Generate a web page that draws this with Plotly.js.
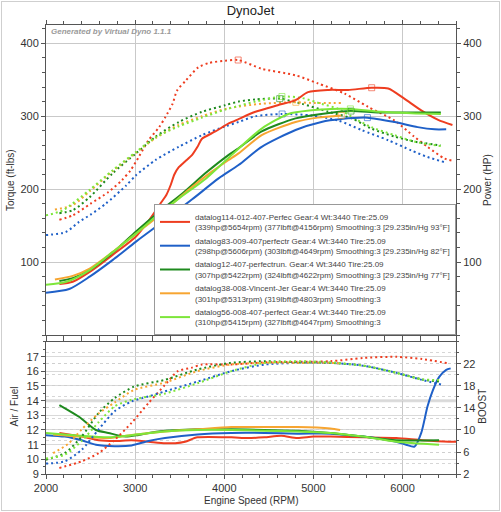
<!DOCTYPE html>
<html><head><meta charset="utf-8">
<script src="https://cdn.plot.ly/plotly-3.0.1.min.js"></script>
<style>
html,body{margin:0;padding:0;background:#fff;}
#chart{width:497px;height:508px;margin:1px;border:1px solid #cfcfcf;}
</style></head>
<body><div id="chart"></div>
<script>
// ---- run names / colours ----
const runNames = [
 "datalog114-012-407-Perfec Gear:4 Wt:3440 Tire:25.09<br>(339hp@5654rpm) (377lbft@4156rpm) Smoothing:3 [29.235in/Hg 93°F]",
 "datalog83-009-407perfectr Gear:4 Wt:3440 Tire:25.09<br>(298hp@5606rpm) (303lbft@4649rpm) Smoothing:3 [29.235in/Hg 82°F]",
 "datalog12-407-perfectrun. Gear:4 Wt:3440 Tire:25.09<br>(307hp@5422rpm) (324lbft@4622rpm) Smoothing:3 [29.235in/Hg 77°F]",
 "datalog38-008-Vincent-Jer Gear:4 Wt:3440 Tire:25.09<br>(301hp@5313rpm) (319lbft@4803rpm) Smoothing:3",
 "datalog56-008-407-perfect Gear:4 Wt:3440 Tire:25.09<br>(310hp@5415rpm) (327lbft@4647rpm) Smoothing:3"
];
const runColors = ["#ee3d20", "#1f60c8", "#1e8a1e", "#f7a531", "#7de63a"];

// ---- peaks (from legend) ----
const peakHpRpm = [5654, 5606, 5422, 5313, 5415];
const peakHp    = [339, 298, 307, 301, 310];
const peakTqRpm = [4156, 4649, 4622, 4803, 4647];
const peakTq    = [377, 303, 324, 319, 327];

// ---- Power (HP) ----
const redHpRpm = [2150,2300,2520,2750,3010,3160,3300,3350,3400,3440,3490,3560,3640,3700,3750,3900,4050,4160,4350,4600,4800,4940,5170,5390,5654,5840,6020,6210,6400,6560];
const redHp    = [70,73,89,110,135,158,183,192,206,220,230,238,247,258,269,279,290,296,306,315,322,333,336,336,339,338,324,308,295,288];
const blueHpRpm = [2000,2260,2490,2750,3010,3340,3640,3940,4160,4420,4800,5090,5310,5606,5910,6170,6360,6490];
const blueHp    = [58,63,80,103,128,158,186,215,233,258,281,292,296,298,292,285,282,282];
const dgHpRpm = [2150,2300,2490,2750,3010,3270,3530,3800,4050,4160,4420,4800,5090,5422,5720,6100,6430];
const dgHp    = [74,78,89,113,142,169,194,223,247,256,279,297,303,307,305,305,305];
const orHpRpm = [2100,2300,2490,2750,3010,3270,3530,3860,4050,4160,4420,4800,5050,5313];
const orHp    = [76,81,91,114,139,164,192,224,240,249,274,292,298,301];
const lgHpRpm = [2000,2230,2490,2750,3010,3230,3500,3800,4050,4420,4720,4980,5200,5415,5760,6100,6430];
const lgHp    = [69,73,89,114,139,162,188,215,243,283,303,308,310,310,306,304,303];

// ---- Torque (ft-lbs) ----
const redTqRpm = [2150,2300,2500,2700,2850,2950,3050,3150,3270,3340,3420,3470,3570,3710,3830,4010,4156,4420,4800,5050,5350,5610,5910,6130,6280,6470,6560];
const redTq    = [158,164,180,196,212,226,246,267,285,299,317,335,349,367,373,376,377,365,356,345,331,313,294,272,258,242,239];
const blueTqRpm = [2000,2220,2370,2500,2670,2900,3010,3230,3490,3750,4010,4160,4350,4649,4980,5280,5540,5840,6100,6280,6470];
const blueTq    = [137,141,155,165,180,205,219,240,258,274,286,292,300,303,301,294,281,267,253,244,237];
const dgTqRpm = [2150,2300,2490,2750,3010,3230,3490,3750,4010,4160,4350,4622,4870,5170,5430,5650,5910,6140,6430];
const dgTq    = [167,171,189,222,249,272,292,306,315,320,323,324,317,306,297,283,272,265,260];
const orTqRpm = [2100,2300,2490,2750,3010,3230,3490,3750,4050,4420,4803,5020,5313];
const orTq    = [172,178,197,225,250,270,288,300,311,317,319,318,318];
const lgTqRpm = [2000,2190,2490,2750,3010,3230,3490,3750,4010,4160,4350,4647,4870,5090,5280,5460,5650,5910,6140,6430];
const lgTq    = [164,171,199,226,251,271,286,298,309,314,320,327,325,317,310,297,285,274,265,259];

// ---- Air / Fuel ----
const redAfrRpm = [2150,2400,2590,2770,2960,3150,3340,3450,3560,3700,4080,4260,4450,4640,4820,5000,5190,5560,5930,6220,6520,6600];
const redAfr    = [11.8,11.55,11.3,11.25,11.3,11.2,11.1,11.1,11.2,11.5,11.5,11.45,11.5,11.6,11.45,11.55,11.55,11.5,11.45,11.3,11.2,11.2];
const blueAfrRpm = [2000,2210,2400,2560,2770,2960,3150,3335,3700,4080,4450,4820,5190,5560,5930,6040,6135,6210,6280,6340,6410,6490,6540];
const blueAfr    = [11.65,11.55,11.3,11.0,10.9,10.95,11.25,11.45,11.7,11.8,11.8,11.75,11.75,11.55,11.2,11.0,10.87,11.8,13.6,14.7,15.6,16.1,16.2];
const dgAfrRpm = [2150,2370,2560,2700,2890,3040,3260,3700,4080,4450,4820,5190,5560,5930,6410];
const dgAfr    = [13.7,12.9,12.0,11.8,11.55,11.66,11.9,12.05,12.05,12.0,11.95,11.8,11.55,11.3,11.3];
const orAfrRpm = [2080,2400,2700,2960,3335,3700,4080,4450,4820,5190,5300];
const orAfr    = [11.7,11.55,11.45,11.66,11.9,12.05,12.2,12.2,12.2,12.1,12.0];
const lgAfrRpm = [2000,2210,2400,2700,2960,3330,3700,4080,4450,4820,5190,5560,5930,6410];
const lgAfr    = [11.8,11.7,11.6,11.5,11.65,11.9,12.0,12.0,11.95,11.9,11.8,11.55,11.2,11.0];

// ---- Boost ----
const redBstRpm = [2150,2400,2590,2770,2960,3150,3335,3480,3630,3750,4080,4450,5190,5560,5930,6220,6520];
const redBst    = [3.1,4.3,5.8,8.2,11.3,14.9,18.2,20.7,21.3,21.9,21.9,22.3,22.5,23.1,23.3,22.9,22.1];
const blueBstRpm = [2000,2210,2400,2590,2770,2960,3150,3330,3700,4080,4450,4820,5190,5560,5930,6220,6450];
const blueBst    = [3.9,4.3,6.4,10.1,13.4,15.2,16.1,17.0,18.8,20.7,21.9,22.2,22.2,21.7,20.4,19.1,18.2];
const dgBstRpm = [2000,2210,2400,2590,2770,2990,3330,3700,4070,4450,4820,5190,5560,5930,6220,6410];
const dgBst    = [4.6,5.8,8.8,13.1,15.8,17.9,19.1,21.0,22.2,22.5,22.3,22.2,21.7,20.4,19.2,18.8];
const orBstRpm = [2080,2250,2400,2590,2770,2990,3330,3700,4070,4450,4820,5190,5310];
const orBst    = [5.8,7.5,10.1,13.0,15.0,17.3,18.6,20.7,21.9,22.2,22.2,22.2,22.1];
const lgBstRpm = [2000,2210,2400,2590,2770,2960,3330,3700,4080,4450,4820,5190,5560,5930,6220,6410];
const lgBst    = [4.8,5.5,8.0,11.4,14.3,15.5,16.6,18.5,20.7,22.2,22.5,22.3,21.7,20.4,19.2,19.1];

// ---- axis ticks ----
const rpmTicks = [2000,3000,4000,5000,6000];
const tqTicks = [100,200,300,400];
const afrTicks = [9,10,11,12,13,14,15,16,17];
const boostTicks = [2,6,10,14,18,22];

const hpSets  = [[redHpRpm,redHp],[blueHpRpm,blueHp],[dgHpRpm,dgHp],[orHpRpm,orHp],[lgHpRpm,lgHp]];
const tqSets  = [[redTqRpm,redTq],[blueTqRpm,blueTq],[dgTqRpm,dgTq],[orTqRpm,orTq],[lgTqRpm,lgTq]];
const afrSets = [[redAfrRpm,redAfr],[blueAfrRpm,blueAfr],[dgAfrRpm,dgAfr],[orAfrRpm,orAfr],[lgAfrRpm,lgAfr]];
const bstSets = [[redBstRpm,redBst],[blueBstRpm,blueBst],[dgBstRpm,dgBst],[orBstRpm,orBst],[lgBstRpm,lgBst]];

const dotDash = "2px,3px";
const traces = [];
// legend entries = power lines
for (let i = 0; i < 5; i++) {
  traces.push({x: hpSets[i][0], y: hpSets[i][1], xaxis: 'x2', yaxis: 'y2', mode: 'lines',
    name: runNames[i], legendgroup: 'r'+i,
    line: {color: runColors[i], width: 2, shape: 'spline', smoothing: 0.7}});
}
for (let i = 0; i < 5; i++) {
  traces.push({x: tqSets[i][0], y: tqSets[i][1], xaxis: 'x2', yaxis: 'y', mode: 'lines',
    showlegend: false, legendgroup: 'r'+i, hoverinfo: 'skip',
    line: {color: runColors[i], width: 2, dash: dotDash, shape: 'spline', smoothing: 0.7}});
  traces.push({x: afrSets[i][0], y: afrSets[i][1], xaxis: 'x', yaxis: 'y3', mode: 'lines',
    showlegend: false, legendgroup: 'r'+i,
    line: {color: runColors[i], width: 2, shape: 'spline', smoothing: 0.7}});
  traces.push({x: bstSets[i][0], y: bstSets[i][1], xaxis: 'x', yaxis: 'y4', mode: 'lines',
    showlegend: false, legendgroup: 'r'+i,
    line: {color: runColors[i], width: 2, dash: dotDash, shape: 'spline', smoothing: 0.7}});
}
// peak markers
traces.push({x: peakTqRpm, y: peakTq, xaxis: 'x2', yaxis: 'y', mode: 'markers', showlegend: false,
  marker: {symbol: 'square-open', size: 6, color: runColors, opacity: 0.6, line: {width: 1, color: runColors}}});
traces.push({x: peakHpRpm, y: peakHp, xaxis: 'x2', yaxis: 'y2', mode: 'markers', showlegend: false,
  marker: {symbol: 'square-open', size: 6, color: runColors, opacity: 0.6, line: {width: 1, color: runColors}}});

const FONT = "Liberation Sans, Arial, sans-serif";
const tickFont = {family: FONT, size: 11, color: '#333'};
const gridC = '#c9c9c9';
const lineC = '#555';

const topDom = [0.30958, 1];
const botDom = [0, 0.294];

const layout = {
  width: 497, height: 508,
  margin: {l: 44, r: 43, t: 23, b: 36, pad: 0},
  paper_bgcolor: '#fff', plot_bgcolor: '#fff',
  font: {family: FONT, color: '#333'},
  title: {text: 'DynoJet', x: 0.5, xanchor: 'center', y: 0.984, yanchor: 'middle', yref: 'container',
          font: {family: FONT, size: 13, color: '#222'}},
  showlegend: true,
  legend: {x: 1, xanchor: 'right', y: topDom[0], yanchor: 'bottom', bgcolor: '#fff',
           bordercolor: '#999', borderwidth: 1, font: {family: FONT, size: 8, color: '#444'},
           itemwidth: 30, tracegroupgap: 0},
  xaxis: {anchor: 'y3', domain: [0, 1], range: [2000, 6600], tickvals: rpmTicks,
          showgrid: true, gridcolor: gridC, zeroline: false, showline: true, linecolor: lineC, mirror: 'ticks',
          ticks: 'outside', ticklen: 4, tickcolor: lineC, tickfont: tickFont,
          minor: {dtick: 200, tick0: 2000, ticklen: 3, ticks: 'outside', tickcolor: lineC, showgrid: false}},
  xaxis2: {anchor: 'y', domain: [0, 1], matches: 'x', range: [2000, 6600], tickvals: rpmTicks,
          showticklabels: false, showgrid: true, gridcolor: gridC, zeroline: false, showline: true,
          linecolor: lineC, mirror: 'ticks', ticks: 'outside', ticklen: 4, tickcolor: lineC,
          minor: {dtick: 200, tick0: 2000, ticklen: 3, ticks: 'outside', tickcolor: lineC, showgrid: false}},
  yaxis: {domain: topDom, anchor: 'x2', range: [0, 425], tickvals: tqTicks, showgrid: true, gridcolor: gridC,
          zeroline: false, showline: true, linecolor: lineC, ticks: 'outside', ticklen: 4, tickcolor: lineC,
          tickfont: tickFont, minor: {dtick: 20, tick0: 0, ticklen: 3, ticks: 'outside', tickcolor: lineC, showgrid: false}},
  yaxis2: {domain: topDom, anchor: 'x2', overlaying: 'y', side: 'right', range: [0, 425], tickvals: tqTicks,
          showgrid: false, zeroline: false, showline: true, linecolor: lineC, ticks: 'outside', ticklen: 4,
          tickcolor: lineC, tickfont: tickFont,
          minor: {dtick: 20, tick0: 0, ticklen: 3, ticks: 'outside', tickcolor: lineC}},
  yaxis3: {domain: botDom, anchor: 'x', range: [9, 18], tickvals: afrTicks, showgrid: true, gridcolor: '#d9d9d9',
          zeroline: false, showline: true, linecolor: lineC, ticks: 'outside', ticklen: 4, tickcolor: lineC,
          tickfont: tickFont, minor: {dtick: 0.5, tick0: 9, ticklen: 2, ticks: 'outside', tickcolor: lineC, showgrid: false}},
  yaxis4: {domain: botDom, anchor: 'x', overlaying: 'y3', side: 'right', range: [2, 26], tickvals: boostTicks,
          showgrid: true, gridcolor: '#cfcfcf', griddash: 'dot', zeroline: false, showline: true, linecolor: lineC,
          ticks: 'outside', ticklen: 4, tickcolor: lineC, tickfont: tickFont,
          minor: {dtick: 2, tick0: 2, ticklen: 2, ticks: 'outside', tickcolor: lineC, showgrid: true, gridcolor: '#d6d6d6', griddash: 'dot'}},
  shapes: [
    {type: 'line', xref: 'x domain', yref: 'y3', x0: 0, x1: 1, y0: 14, y1: 14, layer: 'below',
     line: {color: '#dcdcdc', width: 3}}
  ],
  annotations: [
    {text: '<b><i>Generated by Virtual Dyno 1.1.1</i></b>', xref: 'paper', yref: 'paper', x: 0.008, y: 0.985,
     xanchor: 'left', yanchor: 'middle', showarrow: false, font: {family: FONT, size: 8, color: '#9a9a9a'}},
    {text: 'Torque (ft-lbs)', xref: 'paper', yref: 'paper', x: -0.085, y: 0.655, textangle: -90,
     xanchor: 'center', yanchor: 'middle', showarrow: false, font: {family: FONT, size: 10, color: '#333'}},
    {text: 'Power (HP)', xref: 'paper', yref: 'paper', x: 1.078, y: 0.655, textangle: -90,
     xanchor: 'center', yanchor: 'middle', showarrow: false, font: {family: FONT, size: 10, color: '#333'}},
    {text: 'Air / Fuel', xref: 'paper', yref: 'paper', x: -0.076, y: 0.150, textangle: -90,
     xanchor: 'center', yanchor: 'middle', showarrow: false, font: {family: FONT, size: 10, color: '#333'}},
    {text: 'BOOST', xref: 'paper', yref: 'paper', x: 1.066, y: 0.150, textangle: -90,
     xanchor: 'center', yanchor: 'middle', showarrow: false, font: {family: FONT, size: 10, color: '#333'}},
    {text: 'Engine Speed (RPM)', xref: 'paper', yref: 'paper', x: 0.5, y: -0.058,
     xanchor: 'center', yanchor: 'middle', showarrow: false, font: {family: FONT, size: 10, color: '#333'}}
  ]
};

Plotly.newPlot('chart', traces, layout, {displayModeBar: false, staticPlot: true});
</script>
</body></html>
